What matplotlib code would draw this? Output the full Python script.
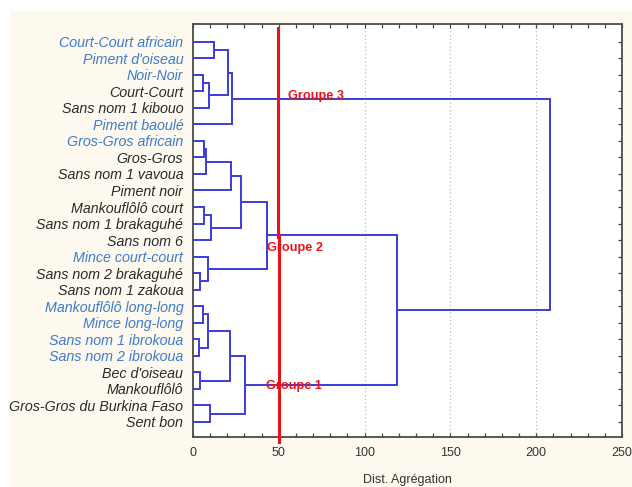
import matplotlib
matplotlib.use("Agg")
import matplotlib.pyplot as plt
from matplotlib.patches import Rectangle

# cultivars, top to bottom as they appear in the tree
leaves = ["Court-Court africain", "Piment d'oiseau", "Noir-Noir", "Court-Court",
          "Sans nom 1 kibouo", "Piment baoulé", "Gros-Gros africain", "Gros-Gros",
          "Sans nom 1 vavoua", "Piment noir", "Mankouflôlô court",
          "Sans nom 1 brakaguhé", "Sans nom 6", "Mince court-court",
          "Sans nom 2 brakaguhé", "Sans nom 1 zakoua", "Mankouflôlô long-long",
          "Mince long-long", "Sans nom 1 ibrokoua", "Sans nom 2 ibrokoua",
          "Bec d'oiseau", "Mankouflôlô", "Gros-Gros du Burkina Faso", "Sent bon"]
# leaves printed in blue
blue_leaves = ["Court-Court africain", "Piment d'oiseau", "Noir-Noir", "Piment baoulé",
               "Gros-Gros africain", "Mince court-court", "Mankouflôlô long-long",
               "Mince long-long", "Sans nom 1 ibrokoua", "Sans nom 2 ibrokoua"]

# merges: (child a, child b, distance); new node id = len(leaves) + index
merge_a = [0, 2, 25, 24, 27, 6, 29, 30, 10, 32, 31, 14, 13, 34, 16, 18, 38, 20, 40, 22, 42, 37, 28]
merge_b = [1, 3, 4, 26, 5, 7, 8, 9, 11, 12, 33, 15, 35, 36, 17, 19, 39, 21, 41, 23, 43, 44, 45]
merge_h = [12.0, 6.0, 9.5, 20.6, 23.0, 6.4, 7.6, 22.1, 6.6, 10.5, 27.8, 4.1, 8.9, 42.9,
           5.6, 3.5, 8.9, 4.1, 21.6, 9.9, 30.3, 119.0, 208.0]

cut = 50
groups = ["Groupe 3", "Groupe 2", "Groupe 1"]
group_x = [55.5, 43.0, 42.5]
group_y = [3.3, 12.5, 20.8]

xticks = [0, 50, 100, 150, 200, 250]

line_col = "#3c3cd8"
red = "#e8141c"
cream = "#fdf9ee"
font = ["Liberation Sans", "DejaVu Sans"]

fig = plt.figure(figsize=(6.32, 4.87), dpi=100, facecolor=cream)
fig.patches.append(Rectangle((0, 1 - 11 / 487), 1, 11 / 487, transform=fig.transFigure,
                             facecolor="white", edgecolor="none", zorder=-1))
fig.patches.append(Rectangle((0, 0), 10 / 632, 1, transform=fig.transFigure,
                             facecolor="white", edgecolor="none", zorder=-1))
ax = fig.add_axes([193 / 632, 1 - 437 / 487, 429 / 632, 413 / 487])
ax.set_facecolor("white")

# walk the merges, drawing each bracket
pos = {i: (0.0, float(i)) for i in range(len(leaves))}
for k, (a, b, h) in enumerate(zip(merge_a, merge_b, merge_h)):
    xa, ya = pos[a]
    xb, yb = pos[b]
    ax.plot([xa, h, h, xb], [ya, ya, yb, yb], color=line_col, lw=1.4,
            solid_joinstyle="miter", zorder=3)
    pos[len(leaves) + k] = (h, (ya + yb) / 2)

for g in [100, 150, 200]:
    ax.axvline(g, color="#b8b8b8", lw=0.9, ls=(0, (1, 2)), zorder=1)

# cut line, drawn in two slightly offset strokes
ax.plot([cut - 0.6, cut - 0.6], [-0.8, 11.8], color=red, lw=2.2, zorder=4, clip_on=False)
ax.plot([cut + 0.2, cut + 0.2], [11.7, 24.2], color=red, lw=2.2, zorder=4, clip_on=False)

for name, gx, gy in zip(groups, group_x, group_y):
    ax.text(gx, gy, name, color=red, fontsize=9.2, fontweight="bold",
            family=font, va="center", ha="left", zorder=5)

ax.set_xlim(0, 250)
ax.set_ylim(len(leaves) - 0.09, -1.07)
ax.set_xticks(xticks)
ax.set_xticks(range(0, 251, 10), minor=True)
ax.set_xticklabels([str(t) for t in xticks], fontsize=9, color="#333333", family=font)
ax.tick_params(axis="x", which="both", direction="in", top=True, length=3,
               width=0.9, color="#444444", pad=7)
ax.set_yticks(range(len(leaves)))
ax.set_yticklabels(leaves, fontsize=10.3, style="italic", family=font)
for lab in ax.get_yticklabels():
    lab.set_color("#3d7cc9" if lab.get_text() in blue_leaves else "#2a2a2a")
ax.tick_params(axis="y", direction="in", left=False, right=True, length=3,
               width=0.9, color="#444444", pad=7)
ax.set_xlabel("Dist. Agrégation", fontsize=9, color="#333333", labelpad=11, family=font)
for s in ax.spines.values():
    s.set_color("#4a4a4a")
    s.set_linewidth(1.3)

fig.savefig("out.png", dpi=100, facecolor=cream)
